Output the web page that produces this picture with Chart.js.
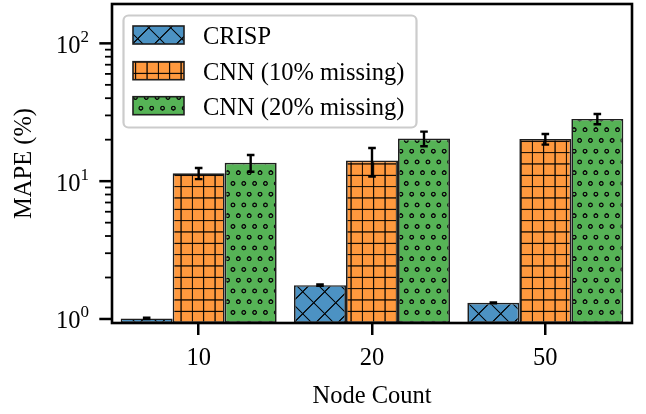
<!DOCTYPE html>
<html><head><meta charset="utf-8">
<script src="https://cdn.jsdelivr.net/npm/chart.js@4.4.1/dist/chart.umd.min.js"></script>
<style>html,body{margin:0;padding:0;background:#fff;} #wrap{width:646px;height:414px;}</style>
</head><body><div id="wrap"><canvas id="c" width="646" height="414"></canvas></div>
<script>
// ---- data ----
const categories = ['10', '20', '50'];
const seriesNames = ['CRISP', 'CNN (10% missing)', 'CNN (20% missing)'];
const crispValues = [1.01, 1.76, 1.31];
const crispErrors = [0.01, 0.02, 0.01];
const cnn10Values = [11.4, 14.1, 20.2];
const cnn10Errors = [1.05, 3.3, 1.8];
const cnn20Values = [13.6, 20.4, 28.3];
const cnn20Errors = [1.9, 2.5, 2.4];
const yMajorTicks = [1, 10, 100];
const yTickExponents = ['0', '1', '2'];
const yMin = 0.935, yMax = 193;

const FONT = "'Liberation Serif', 'Times New Roman', serif";
const FS = 24.5;
const canvas = document.getElementById('c');
const ctx = canvas.getContext('2d');

function makePattern(w, h, draw, ox, oy) {
  const c = document.createElement('canvas'); c.width = w; c.height = h;
  const g = c.getContext('2d'); draw(g, w, h);
  const p = ctx.createPattern(c, 'repeat');
  p.setTransform(new DOMMatrix().translate(ox, oy).scale(0.5));
  return p;
}
const HATCH = 'rgba(0,0,0,0.92)';
const blueP = makePattern(44, 44, (g, w, h) => {
  g.fillStyle = '#4c92c3'; g.fillRect(0, 0, w, h);
  g.strokeStyle = HATCH; g.lineWidth = 2.3;
  g.beginPath();
  for (const d of [-w, 0, w]) {
    g.moveTo(d - 2, -2); g.lineTo(d + w + 2, h + 2);
    g.moveTo(d + w + 2, -2); g.lineTo(d - 2, h + 2);
  }
  g.stroke();
}, 16.7, 5.7);
const orangeP = makePattern(68, 68, (g, w, h) => {
  g.fillStyle = '#ff993e'; g.fillRect(0, 0, w, h);
  g.fillStyle = HATCH;
  for (const p of [0, w / 3, 2 * w / 3, w]) {
    g.fillRect(p - 1.2, 0, 2.4, h);
    g.fillRect(0, p - 1.2, w, 2.4);
  }
}, -0.33, 5.3);
const greenP = makePattern(65, 43, (g, w, h) => {
  g.fillStyle = '#56b356'; g.fillRect(0, 0, w, h);
  g.strokeStyle = '#0a0a0a'; g.lineWidth = 2.6;
  const pts = [];
  for (let i = 0; i < 3; i++) { pts.push([i * w / 3, 0]); pts.push([i * w / 3 + w / 6, h / 2]); }
  for (const [x, y] of pts) for (const dx of [-w, 0, w]) for (const dy of [-h, 0, h]) {
    g.beginPath(); g.arc(x + dx, y + dy, 3.6, 0, Math.PI * 2); g.stroke();
  }
}, 0, 0.7);

const EDGE = '#1e1e1e';
const fills = [blueP, orangeP, greenP];
const values = [crispValues, cnn10Values, cnn20Values];
const errors = [crispErrors, cnn10Errors, cnn20Errors];

const overlay = {
  id: 'overlay',
  afterDraw(chart) {
    const c = chart.ctx, a = chart.chartArea, ys = chart.scales.y;
    c.save();
    // error bars
    c.strokeStyle = '#000'; c.lineWidth = 2.4;
    chart.data.datasets.forEach((ds, di) => {
      const meta = chart.getDatasetMeta(di);
      meta.data.forEach((bar, i) => {
        const v = ds.data[i], e = errors[di][i];
        const yt = ys.getPixelForValue(v + e), yb = ys.getPixelForValue(v - e);
        c.beginPath();
        c.moveTo(bar.x, yt); c.lineTo(bar.x, yb);
        c.moveTo(bar.x - 3.8, yt); c.lineTo(bar.x + 3.8, yt);
        c.moveTo(bar.x - 3.8, yb); c.lineTo(bar.x + 3.8, yb);
        c.stroke();
      });
    });
    // y ticks
    c.strokeStyle = '#000';
    for (let d = 0; d < yMajorTicks.length; d++) {
      const base = yMajorTicks[d];
      const y = ys.getPixelForValue(base);
      c.lineWidth = 2.5;
      c.beginPath(); c.moveTo(a.left - 12.7, y); c.lineTo(a.left, y); c.stroke();
      c.lineWidth = 1.8;
      for (let k = 2; k <= 9; k++) {
        const v = base * k;
        if (v > yMax) continue;
        const ym = ys.getPixelForValue(v);
        c.beginPath(); c.moveTo(a.left - 7, ym); c.lineTo(a.left, ym); c.stroke();
      }
      // label 10^n
      c.fillStyle = '#000'; c.textBaseline = 'alphabetic'; c.textAlign = 'left';
      c.font = FS + 'px ' + FONT;
      const wb = c.measureText('10').width;
      c.font = '17px ' + FONT;
      const we = c.measureText(yTickExponents[d]).width;
      const right = 89;
      c.font = FS + 'px ' + FONT;
      c.fillText('10', right - we - wb, y + 9.5);
      c.font = '17px ' + FONT;
      c.fillText(yTickExponents[d], right - we, y - 1.5);
    }
    // spines
    c.lineWidth = 2.6; c.strokeStyle = '#000';
    c.strokeRect(a.left, a.top, a.right - a.left, a.bottom - a.top);
    // legend
    const lx = 123.5, ly = 15.5, lw = 293, lh = 112, r = 5;
    c.beginPath();
    c.roundRect(lx, ly, lw, lh, r);
    c.fillStyle = 'rgba(255,255,255,0.8)'; c.fill();
    c.strokeStyle = '#cccccc'; c.lineWidth = 2.2; c.stroke();
    const rowY = [26, 61.7, 96.7];
    chart.data.datasets.forEach((ds, di) => {
      c.fillStyle = fills[di];
      c.fillRect(133, rowY[di], 51, 18);
      c.strokeStyle = EDGE; c.lineWidth = 1.6;
      c.strokeRect(133, rowY[di], 51, 18);
      c.fillStyle = '#000'; c.font = FS + 'px ' + FONT;
      c.textAlign = 'left'; c.textBaseline = 'alphabetic';
      c.fillText(ds.label, 203, rowY[di] + 18);
    });
    c.restore();
  }
};

new Chart(ctx, {
  type: 'bar',
  data: {
    labels: categories,
    datasets: seriesNames.map((name, i) => ({
      label: name, data: values[i], backgroundColor: fills[i],
      borderColor: EDGE, borderWidth: 1.7, borderSkipped: false,
      categoryPercentage: 0.9, barPercentage: 1.0
    }))
  },
  options: {
    responsive: false, animation: false, devicePixelRatio: 1,
    layout: { padding: { left: 0, right: 14, top: 4, bottom: 0 } },
    plugins: { legend: { display: false }, tooltip: { enabled: false } },
    scales: {
      x: {
        type: 'category', offset: true,
        grid: { offset: false, drawOnChartArea: false, drawTicks: true, tickLength: 12, color: '#000', lineWidth: 2.5 },
        border: { display: false },
        ticks: { color: '#000', font: { family: FONT, size: FS }, padding: 9, maxRotation: 0 },
        title: { display: true, text: 'Node Count', color: '#000', font: { family: FONT, size: FS, lineHeight: 1 }, padding: { top: 0, bottom: 5 } },
        afterFit(s) { s.height = 91; }
      },
      y: {
        type: 'logarithmic', min: yMin, max: yMax,
        grid: { display: false }, border: { display: false },
        ticks: { display: false },
        title: { display: true, text: 'MAPE (%)', color: '#000', font: { family: FONT, size: FS, lineHeight: 1 }, padding: { top: 12, bottom: 0 } },
        afterFit(s) { s.width = 112; }
      }
    }
  },
  plugins: [overlay]
});
</script></body></html>
